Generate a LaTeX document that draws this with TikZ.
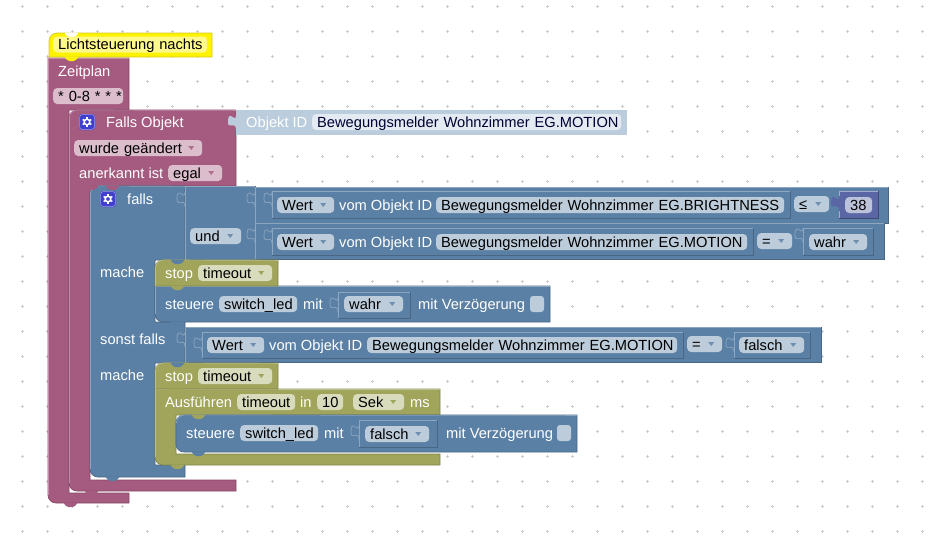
\documentclass[tikz,border=0pt]{standalone}
\usepackage{fontspec}
\setmainfont{Liberation Sans}
\usepackage{xcolor}
\usetikzlibrary{positioning, calc}

\definecolor{bluec}{HTML}{5B80A5}
\definecolor{blued}{HTML}{496684}
\definecolor{bluel}{HTML}{8CA6C0}
\definecolor{bluef}{HTML}{BDCCDB}
\definecolor{purc}{HTML}{A55B80}
\definecolor{purd}{HTML}{844966}
\definecolor{purl}{HTML}{C08CA6}
\definecolor{purf}{HTML}{DBBDCC}
\definecolor{olic}{HTML}{A0A55B}
\definecolor{olid}{HTML}{808449}
\definecolor{olil}{HTML}{BCC08C}
\definecolor{olif}{HTML}{D9DBBD}
\definecolor{numc}{HTML}{5B67A5}
\definecolor{numf}{HTML}{BDC2DB}
\definecolor{objc}{HTML}{BBCCDD}
\definecolor{objf}{HTML}{E4EAF1}
\definecolor{gearc}{HTML}{4040CC}

\tikzset{
    txt/.style={font=\fontsize{14.67}{16}\selectfont, inner sep=0pt, text height=11pt, text depth=1pt, anchor=west},
    lbl/.style={txt, text=white},
    fld/.style={txt, text=black, rounded corners=4pt, inner xsep=5pt, minimum height=16pt, align=left},
    fldb/.style={fld, fill=bluef},
    fldp/.style={fld, fill=purf},
    fldo/.style={fld, fill=olif},
    dd/.style={path picture={\fill[#1, sharp corners] ([shift={(-14,-2)}]path picture bounding box.east) -- ++(6,0) -- ++(-3,4) -- cycle;}},
    ddb/.style={fldb, dd=bluec!80!bluef},
    ddp/.style={fldp, dd=purc!80!purf},
    ddo/.style={fldo, dd=olic},
    blkb/.style={fill=bluec, draw=blued, line width=0.7pt},
    blkp/.style={fill=purc, draw=purd, line width=0.7pt},
    blko/.style={fill=olic, draw=olid, line width=0.7pt},
}

% light top and left edge of a block
\newcommand{\bevel}[5]{\draw[#5, line width=0.7pt] (#1,#4) -- (#1,#2) -- (#3,#2);}
% value socket: the curved tab on the left edge of a block
\newcommand{\socket}[3]{\draw[#3, line width=0.7pt] (#1,#2+5) .. controls (#1,#2+15) and (#1-8,#2-3) .. (#1-8,#2+12.5) .. controls (#1-8,#2+20) and (#1,#2+10) .. (#1,#2+20);}
\newcommand{\sockfill}[3]{\fill[#3] (#1+1,#2+5) -- (#1,#2+5) .. controls (#1,#2+15) and (#1-8,#2-3) .. (#1-8,#2+12.5) .. controls (#1-8,#2+20) and (#1,#2+10) .. (#1,#2+20) -- (#1+1,#2+20) -- cycle;}
% block sitting in a socket
\newcommand{\innerblk}[4]{
    \draw[blkb] (#1,#2) rectangle (#3,#4);
    \bevel{#1}{#2}{#3}{#4}{bluel}
}
% gear button
\newcommand{\gearbtn}[2]{
    \fill[gearc, rounded corners=3pt] (#1,#2) rectangle ++(16,16);
    \draw[gearc!50!white, rounded corners=3pt, line width=0.5pt] (#1+0.5,#2+0.5) rectangle ++(15,15);
    \foreach \ga in {30,90,...,330}
        \draw[white, line width=1.5pt] ($(#1+8,#2+8)+(\ga:3)$) -- ($(#1+8,#2+8)+(\ga:5)$);
    \draw[white, line width=1.5pt] (#1+8,#2+8) circle (2.8);
}

\begin{document}
\begin{tikzpicture}[x=1pt, y=-1pt]
    \useasboundingbox (0,0) rectangle (928,550);

    % Workspace dots
    \foreach \gx in {22,47,...,922}
        \foreach \gy in {6,31,...,531} {
            \draw[black!20, line width=1pt] (\gx-1.5,\gy) -- (\gx+1.5,\gy);
            \draw[black!20, line width=1pt] (\gx,\gy-1.5) -- (\gx,\gy+1.5);
        }

    % Zeitplan
    \draw[blkp] (48,58) -- (129,58) -- (129,110) -- (69,110) -- (69,493) -- (129,493) -- (129,503)
        [rounded corners=8pt] -- (48,503) [sharp corners] -- cycle;
    \bevel{48.4}{58.4}{129}{495}{purl}

    % Falls Objekt
    \draw[blkp] (69,118) [rounded corners=8pt] -- (69,110) [sharp corners] -- (236,110) -- (236,186) -- (90,186)
        -- (90,480) -- (236,480) -- (236,491) [rounded corners=8pt] -- (69,491) [sharp corners] -- cycle;
    \draw[purl, line width=0.7pt] (69.4,483) -- (69.4,118) arc (180:270:8) -- (236,110.4);

    % falls / sonst falls
    \draw[blkb] (90,194) [rounded corners=8pt] -- (90,186) [sharp corners] -- (185,186) -- (185,260) -- (155,260)
        -- (155,322) -- (185,322) -- (185,363) -- (155,363) -- (155,465) -- (185,465) -- (185,477)
        [rounded corners=8pt] -- (90,477) [sharp corners] -- cycle;
    \draw[bluel, line width=0.7pt] (90.4,469) -- (90.4,194) arc (180:270:8) -- (185,186.4);
    \draw[blkb] (185,186) rectangle (255,260);
    \bevel{185.4}{186.4}{255}{260}{bluel}

    % Rows of the first condition
    \draw[blkb] (255,187) rectangle (888,223);
    \bevel{255.4}{187.4}{888}{223}{bluel}
    \draw[blkb] (255,223) rectangle (884,259);
    \bevel{255.4}{223.4}{884}{259}{bluel}
    \innerblk{272}{191}{790}{218}
    \innerblk{272}{228}{753}{255}
    \innerblk{803}{228}{873}{255}
    \draw[draw=numc!70!black, fill=numc, line width=0.7pt] (839,191) rectangle (878,218);
    \draw[numc!55!white, line width=0.7pt] (839.4,218) -- (839.4,191.4) -- (878,191.4);

    % Second condition row
    \draw[blkb] (185,327) rectangle (821,362);
    \bevel{185.4}{327.4}{821}{362}{bluel}
    \innerblk{202}{332}{683}{358}
    \innerblk{734}{332}{810}{358}

    % stop and steuere
    \draw[blkb] (155,286) -- (550,286) -- (550,322) [rounded corners=8pt] -- (155,322) [sharp corners] -- cycle;
    \bevel{155.4}{286.4}{550}{314}{bluel}
    \innerblk{338}{292}{410}{318}
    \draw[blko] (155,268) [rounded corners=8pt] -- (155,260) [sharp corners] -- (278,260) -- (278,286) -- (155,286) -- cycle;
    \draw[olil, line width=0.7pt] (155.4,286) -- (155.4,268) arc (180:270:8) -- (278,260.4);

    % Second stop, Ausfuehren
    \draw[blko] (155,389) -- (440,389) -- (440,415) -- (176,415) -- (176,454) -- (440,454) -- (440,465)
        [rounded corners=8pt] -- (155,465) [sharp corners] -- cycle;
    \bevel{155.4}{389.4}{440}{457}{olil}
    \draw[blko] (155,371) [rounded corners=8pt] -- (155,363) [sharp corners] -- (278,363) -- (278,389) -- (155,389) -- cycle;
    \draw[olil, line width=0.7pt] (155.4,389) -- (155.4,371) arc (180:270:8) -- (278,363.4);
    \draw[blkb] (176,423) [rounded corners=8pt] -- (176,415) [sharp corners] -- (577,415) -- (577,452)
        [rounded corners=8pt] -- (176,452) [sharp corners] -- cycle;
    \draw[bluel, line width=0.7pt] (176.4,423) arc (180:270:8) -- (577,415.4);
    \innerblk{359}{420}{437}{447}

    % Objekt ID
    \fill[objc] (236,110) rectangle (627,135);
    \sockfill{236}{110}{objc}

    % Comment
    \draw[fill=yellow, draw=yellow!80!black, line width=0.7pt] (49,41) [rounded corners=8pt] -- (49,33) [sharp corners] -- (212,33) -- (212,57) -- (49,57) -- cycle;

    % Tabs between stacked blocks
    \foreach \tabx/\taby/\tabc in {
        64/33/white, 64/57/yellow, 63/503/purc, 84/186/purc, 84/491/purc, 105/186/purc, 105/477/bluec,
        170/260/bluec, 170/286/olic, 170/322/bluec, 170/363/bluec, 170/389/olic, 191/415/olic,
        191/452/bluec, 170/465/olic}
        \fill[\tabc, rounded corners=1.5pt] (\tabx,\taby-0.5) -- (\tabx+4,\taby+4) -- (\tabx+11,\taby+4) -- (\tabx+15,\taby-0.5) -- cycle;

    % Value sockets
    \socket{185}{187}{bluel}
    \socket{255}{187}{bluel}
    \socket{272}{187}{bluel}
    \socket{255}{223}{bluel}
    \socket{272}{224}{bluel}
    \socket{803}{223}{bluel}
    \sockfill{839}{191}{numc}
    \socket{338}{292}{bluel}
    \socket{185}{327}{bluel}
    \socket{202}{332}{bluel}
    \socket{734}{332}{bluel}
    \socket{359}{420}{bluel}

    % Comment text
    \node[fld, fill=yellow!45!white, text width=144pt] (comment) at (53,44.5) {\mbox{Lichtsteuerung nachts}};

    % Zeitplan texts
    \node[lbl] (zeitplan) at (58,71) {Zeitplan};
    \node[fldp, text width=60pt] (cron) at (53,96) {\mbox{* 0-8 * * *}};

    % Falls Objekt texts
    \gearbtn{79}{114}
    \node[lbl] (fallsobj) at (106,122) {Falls Objekt};
    \node[ddp, text width=118pt] (geaendert) at (74,148) {wurde geändert};
    \node[lbl] (anerkannt) at (79,173) {anerkannt ist};
    \node[ddp, text width=44pt] (egal) at (168,173) {egal};
    \node[lbl] (objid) at (246,122) {Objekt ID};
    \node[fld, fill=objf, text=black!80!blue, text width=299pt] (objname) at (312,122) {\mbox{Bewegungsmelder Wohnzimmer EG.MOTION}};

    % falls texts
    \gearbtn{100}{191}
    \node[lbl] (falls) at (127,199) {falls};
    \node[ddb, text width=41pt] (und) at (190,236) {und};
    \node[lbl] (mache) at (100,272) {mache};
    \node[lbl] (sonst) at (100,339) {sonst falls};
    \node[lbl] (machezwei) at (100,375) {mache};

    % First row
    \node[ddb, text width=47pt] (wertA) at (277,205) {Wert};
    \node[lbl] (vomA) at (339,205) {vom Objekt ID};
    \node[fldb, text width=338pt] (nameA) at (436,205) {\mbox{Bewegungsmelder Wohnzimmer EG.BRIGHTNESS}};
    \node[ddb, text width=25pt] (leq) at (794,204) {≤};
    \node[fld, fill=numf, text width=17pt] (num) at (845,205) {38};

    % Second row
    \node[ddb, text width=47pt] (wertB) at (277,242) {Wert};
    \node[lbl] (vomB) at (339,242) {vom Objekt ID};
    \node[fldb, text width=301pt] (nameB) at (436,242) {\mbox{Bewegungsmelder Wohnzimmer EG.MOTION}};
    \node[ddb, text width=25pt] (eqB) at (757,241) {=};
    \node[ddb, text width=48pt] (wahrB) at (809,242) {wahr};

    % stop and steuere texts
    \node[lbl] (stopA) at (165,273) {stop};
    \node[ddo, text width=64pt] (timeoutA) at (198,273) {timeout};
    \node[lbl] (steuereA) at (165,304) {steuere};
    \node[fldb, text width=68pt] (switchA) at (219,304) {switch\_led};
    \node[lbl] (mitA) at (303,304) {mit};
    \node[ddb, text width=49pt] (wahrA) at (344,304) {wahr};
    \node[lbl] (verzA) at (418,304) {mit Verzögerung};
    \fill[bluef, rounded corners=3pt] (530,296) rectangle (544,312);

    % Sonst falls row
    \node[ddb, text width=47pt] (wertC) at (207,345) {Wert};
    \node[lbl] (vomC) at (269,345) {vom Objekt ID};
    \node[fldb, text width=300pt] (nameC) at (367,345) {\mbox{Bewegungsmelder Wohnzimmer EG.MOTION}};
    \node[ddb, text width=25pt] (eqC) at (687,344) {=};
    \node[ddb, text width=55pt] (falschC) at (739,345) {falsch};

    % Second stop and Ausfuehren texts
    \node[lbl] (stopB) at (165,376) {stop};
    \node[ddo, text width=64pt] (timeoutB) at (198,376) {timeout};
    \node[lbl] (ausf) at (165,402) {Ausführen};
    \node[fldo, text width=48pt] (timeoutC) at (237,402) {timeout};
    \node[lbl] (inl) at (300,402) {in};
    \node[fldo, text width=16pt] (zehn) at (317,402) {10};
    \node[ddo, text width=41pt] (sek) at (353,402) {Sek};
    \node[lbl] (ms) at (410,402) {ms};

    % Inner steuere texts
    \node[lbl] (steuereB) at (186,433) {steuere};
    \node[fldb, text width=68pt] (switchB) at (240,433) {switch\_led};
    \node[lbl] (mitB) at (324,433) {mit};
    \node[ddb, text width=54pt] (falschB) at (365,434) {falsch};
    \node[lbl] (verzB) at (446,433) {mit Verzögerung};
    \fill[bluef, rounded corners=3pt] (557,425) rectangle (571,441);
\end{tikzpicture}
\end{document}
